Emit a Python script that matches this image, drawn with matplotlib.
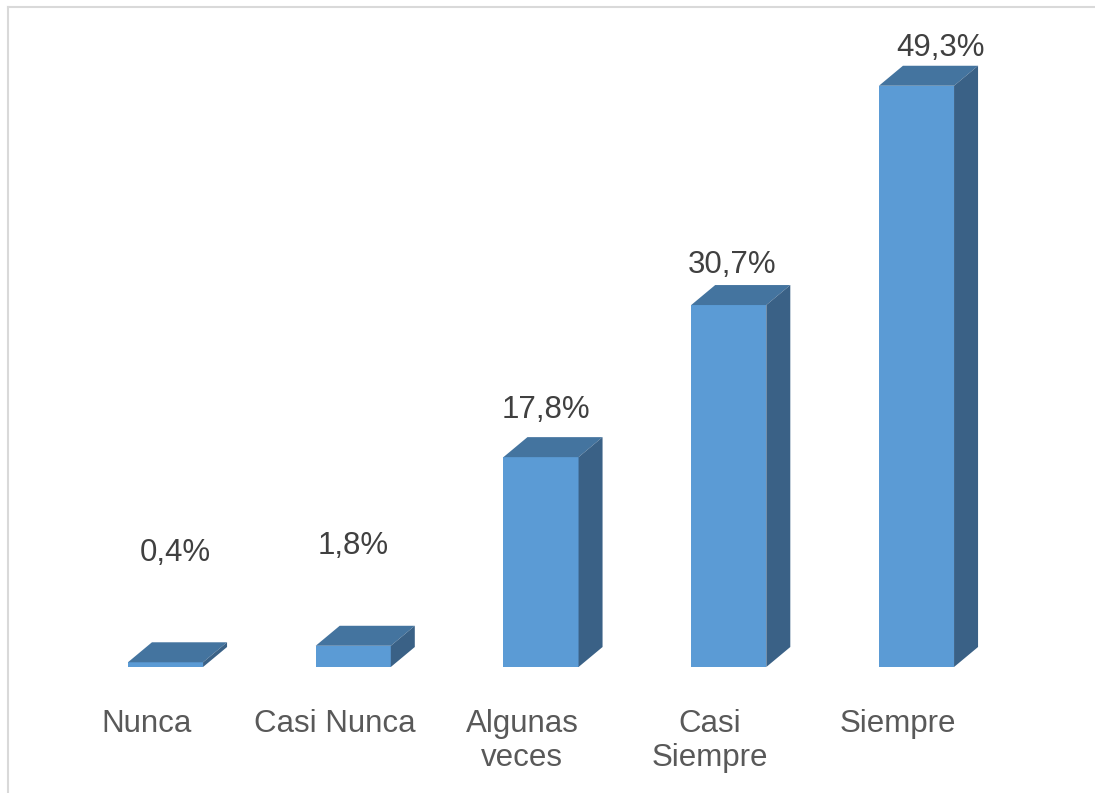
import matplotlib
matplotlib.use("Agg")
import matplotlib.pyplot as plt
from matplotlib.patches import Polygon, Rectangle
from matplotlib.lines import Line2D

categories = ["Nunca", "Casi Nunca", "Algunas\nveces", "Casi\nSiempre", "Siempre"]
values = [0.4, 1.8, 17.8, 30.7, 49.3]
value_labels = ["0,4%", "1,8%", "17,8%", "30,7%", "49,3%"]

# label placement tweaks (data units)
label_y_offsets = [9.25, 8.45, 4.0, 3.4, 3.2]
label_x_offsets = [0.05, 0.0, 0.025, 0.02, 0.13]

FRONT = "#5B9BD5"
TOP = "#44749F"
SIDE = "#3A6186"

W, H = 1095, 793
fig = plt.figure(figsize=(W / 100, H / 100), dpi=100)
ax = fig.add_axes([0, 0, 1, 1])
spacing = 187.75
ppu = 11.79
x0 = 165.5
base = H - 667
ax.set_xlim(-x0 / spacing, (W - x0) / spacing)
ax.set_ylim(-base / ppu, (H - base) / ppu)
ax.axis("off")

bw = 0.4
dx = 24 / spacing
dy = 20 / ppu

for i, v in enumerate(values):
    l, r = i - bw / 2, i + bw / 2
    ax.add_patch(Rectangle((l, 0), bw, v, facecolor=FRONT, edgecolor="none", zorder=2))
    ax.add_patch(Polygon([(l, v), (l + dx, v + dy), (r + dx, v + dy), (r, v)],
                         closed=True, facecolor=TOP, edgecolor="none", zorder=2))
    ax.add_patch(Polygon([(r, 0), (r + dx, dy), (r + dx, v + dy), (r, v)],
                         closed=True, facecolor=SIDE, edgecolor="none", zorder=2))
    ax.text(i + label_x_offsets[i], v + label_y_offsets[i], value_labels[i],
            ha="center", va="center", fontsize=22.5, color="#404040",
            family="Liberation Sans")
    ax.text(i - 0.1, -3.6, categories[i], ha="center", va="top",
            fontsize=22.5, color="#595959", family="Liberation Sans",
            linespacing=1.15, multialignment="center")

# frame border (top and left visible)
fig.add_artist(Line2D([8 / W, 8 / W], [0, 1 - 7 / H], transform=fig.transFigure,
                      color="#D9D9D9", lw=1.5))
fig.add_artist(Line2D([8 / W, 1], [1 - 7 / H, 1 - 7 / H], transform=fig.transFigure,
                      color="#D9D9D9", lw=1.5))

fig.savefig("out.png", dpi=100)
